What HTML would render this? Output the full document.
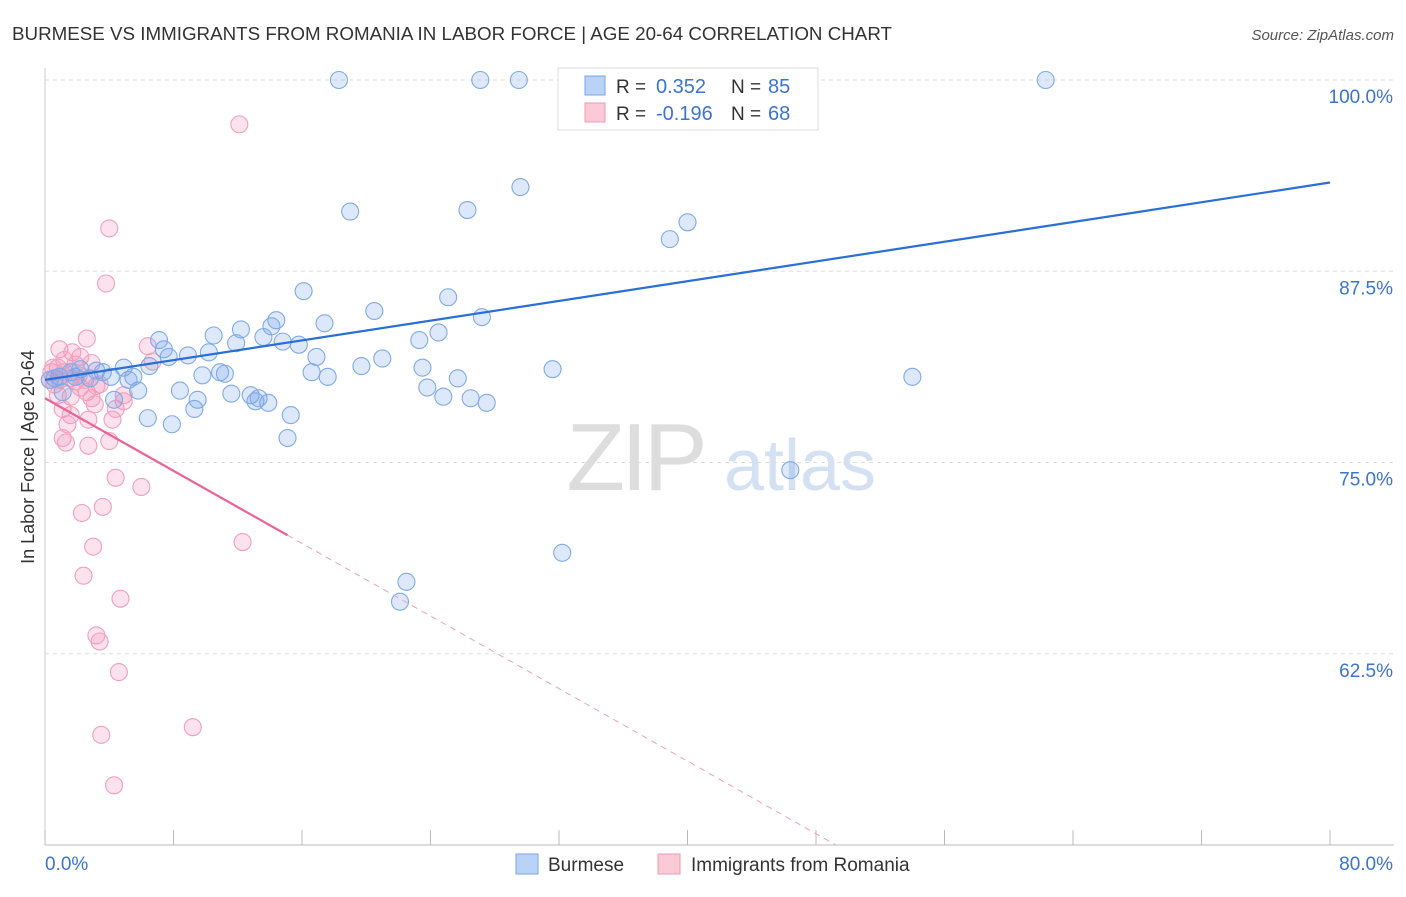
<!DOCTYPE html>
<html><head><meta charset="utf-8">
<style>
body{margin:0;background:#fff;font-family:"Liberation Sans",sans-serif;}
svg text{font-family:"Liberation Sans",sans-serif;}
</style></head>
<body>
<svg id="chart" width="1406" height="892" xmlns="http://www.w3.org/2000/svg">
<text x="12" y="40" font-size="18" fill="#333" textLength="880" lengthAdjust="spacingAndGlyphs">BURMESE VS IMMIGRANTS FROM ROMANIA IN LABOR FORCE | AGE 20-64 CORRELATION CHART</text>
<text x="1394" y="40" font-size="15" fill="#555" text-anchor="end" font-style="italic">Source: ZipAtlas.com</text>
<text transform="translate(34,457) rotate(-90)" font-size="18" fill="#333" text-anchor="middle">In Labor Force | Age 20-64</text>
<g>
<text x="635" y="490" font-size="96" fill="#ddd" text-anchor="middle" font-family="Liberation Serif" letter-spacing="-4">ZIP</text>
<text x="800" y="490" font-size="72" fill="#d3e1f3" text-anchor="middle">atlas</text>
</g>
<g id="grid"></g>
<g id="axes"></g>
<g id="marks"></g>
<g>
<rect x="558" y="68" width="260" height="62" fill="#fff" stroke="#ddd"/>
<rect x="585" y="76" width="20" height="19" fill="#b8d3f5" stroke="#7aa6e6"/>
<text x="616" y="93" font-size="19" fill="#333">R = </text>
<text x="656" y="93" font-size="20" fill="#3b73d1">0.352</text>
<text x="731" y="93" font-size="19" fill="#333">N = </text>
<text x="768" y="93" font-size="20" fill="#3b73d1">85</text>
<rect x="585" y="103" width="20" height="19" fill="#fbc9d8" stroke="#ee9ab6"/>
<text x="616" y="120" font-size="19" fill="#333">R = </text>
<text x="656" y="120" font-size="20" fill="#3b73d1">-0.196</text>
<text x="731" y="120" font-size="19" fill="#333">N = </text>
<text x="768" y="120" font-size="20" fill="#3b73d1">68</text>
</g>
<g>
<rect x="516" y="854" width="22" height="20" fill="#b8d3f5" stroke="#7aa6e6"/>
<text x="548" y="871" font-size="19" fill="#333">Burmese</text>
<rect x="658" y="854" width="22" height="20" fill="#fbc9d8" stroke="#ee9ab6"/>
<text x="691" y="871" font-size="19" fill="#333">Immigrants from Romania</text>
</g>
</svg>
<script>
const xTicksPct=[0,8,16,24,32,40,48,56,64,72,80];
const yGridVals=[100,87.5,75,62.5];
const yTickLabels=["100.0%","87.5%","75.0%","62.5%"];
const xEndLabels=["0.0%","80.0%"];
const blueX=[18.3,27.1,29.5,62.3,37.7,29.6,19.0,26.3,40.0,38.9,16.1,25.1,20.5,27.2,14.4,14.1,17.4,12.2,10.5,7.1,7.4,11.9,13.6,14.8,15.8,8.9,10.2,7.7,16.9,23.3,24.5,21.0,19.7,16.6,17.6,23.5,31.6,54.0,25.7,23.8,24.8,26.5,27.5,12.8,8.4,9.8,10.9,11.2,11.6,13.3,13.9,13.1,9.5,9.3,15.3,15.1,6.4,7.9,5.8,4.9,5.5,4.1,3.6,3.2,2.8,2.2,1.9,0.9,1.1,0.6,4.3,5.2,6.5,46.4,32.2,22.5,22.1,0.3,1.6];
const blueY=[100,100,100,100,97.5,93.0,91.4,91.5,90.7,89.6,86.2,85.8,84.9,84.5,84.3,83.9,84.1,83.7,83.3,83.0,82.4,82.8,83.2,82.9,82.7,82.0,82.2,81.9,81.9,83.0,83.5,81.8,81.3,80.9,80.6,81.2,81.1,80.6,80.5,79.9,79.3,79.2,78.9,79.4,79.7,80.7,80.9,80.8,79.5,79.2,78.9,79.0,79.1,78.5,78.1,76.6,77.9,77.5,79.7,81.2,80.6,80.6,80.9,81.0,80.5,81.1,80.6,80.6,79.6,80.5,79.1,80.4,81.3,74.5,69.1,67.2,65.9,80.4,80.9];
const pinkX=[12.1,4.0,3.8,2.6,0.9,1.7,2.2,2.9,6.4,6.7,0.8,1.2,1.6,1.9,2.2,2.6,2.9,3.4,3.1,4.9,4.4,4.2,2.7,1.6,1.4,1.1,1.3,2.7,4.0,4.4,6.0,3.6,2.3,3.0,12.3,2.4,4.7,3.2,3.4,4.6,9.2,3.5,4.3,0.3,0.4,0.6,0.8,1.2,1.9,0.9,0.5,2.1,2.5,3.2,4.9,1.6,1.1];
const pinkY=[97.1,90.3,86.7,83.1,82.4,82.2,81.9,81.5,82.6,81.6,81.2,80.9,80.5,80.3,79.9,79.6,79.2,80.1,78.8,79.0,78.5,77.8,77.8,78.1,77.5,76.6,76.3,76.1,76.4,74.0,73.4,72.1,71.7,69.5,69.8,67.6,66.1,63.7,63.3,61.3,57.7,57.2,53.9,80.4,80.9,80.1,79.4,81.7,81.4,80.4,81.2,80.7,80.4,80.0,79.4,79.3,78.5];
const blueTrend=[80.4,93.3];
const pinkTrend=[79.2,79.2-0.593*80];
const pinkSolidEnd=15.1;

const NS="http://www.w3.org/2000/svg";
const X0=45,X1=1330,Y0=80,Y1=845;
function xs(v){return X0+(v/80)*(X1-X0);}
function ys(v){return Y0+(100-v)/50*(Y1-Y0);}
function mk(tag,attrs,parent){const e=document.createElementNS(NS,tag);for(const k in attrs)e.setAttribute(k,attrs[k]);parent.appendChild(e);return e;}
const grid=document.getElementById('grid'),axes=document.getElementById('axes'),marks=document.getElementById('marks');
yGridVals.forEach((v,i)=>{
 const l=mk('line',{x1:X0,x2:1394,y1:ys(v),y2:ys(v),stroke:'#ddd','stroke-dasharray':'4,4'},grid);
 
 
 const t=mk('text',{x:1393,y:ys(v)+23,'font-size':19,fill:'#3b73d1','text-anchor':'end'},axes);
 t.textContent=yTickLabels[i];
 
 
});
const ax=mk('line',{x1:X0,x2:1394,y1:Y1,y2:Y1,stroke:'#bbb'},axes);


const ay=mk('line',{x1:X0,x2:X0,y1:68,y2:Y1,stroke:'#ccc'},axes);


xTicksPct.forEach(v=>{
 const t=mk('line',{x1:xs(v),x2:xs(v),y1:830,y2:Y1,stroke:'#bbb'},axes);
 
 
});
const xl0=mk('text',{x:45,y:870,'font-size':19,fill:'#3b73d1'},axes);xl0.textContent=xEndLabels[0];


const xl1=mk('text',{x:1393,y:870,'font-size':19,fill:'#3b73d1','text-anchor':'end'},axes);xl1.textContent=xEndLabels[1];


function pts(X,Y,fill,stroke,name){
 X.forEach((x,i)=>{const c=mk('circle',{cx:xs(x),cy:ys(Y[i]),r:8.5,fill:fill,stroke:stroke,'stroke-width':1.1},marks);
 
 });
}
pts(pinkX,pinkY,'rgba(244,150,185,0.28)','#f0a0bd','romania-point');
pts(blueX,blueY,'rgba(120,165,235,0.25)','#80aae6','burmese-point');
const bl=mk('line',{x1:xs(0),y1:ys(blueTrend[0]),x2:xs(80),y2:ys(blueTrend[1]),stroke:'#2a6fd6','stroke-width':2.2},marks);


function py(x){return pinkTrend[0]+(pinkTrend[1]-pinkTrend[0])*x/80;}
const pl=mk('line',{x1:xs(0),y1:ys(py(0)),x2:xs(pinkSolidEnd),y2:ys(py(pinkSolidEnd)),stroke:'#e8639a','stroke-width':2.2},marks);


const xEnd=(pinkTrend[0]-50)/(pinkTrend[0]-pinkTrend[1])*80;
const pd=mk('line',{x1:xs(pinkSolidEnd),y1:ys(py(pinkSolidEnd)),x2:xs(xEnd),y2:ys(50),stroke:'#eea0bd','stroke-width':1,'stroke-dasharray':'6,5'},marks);


</script>
</body></html>
